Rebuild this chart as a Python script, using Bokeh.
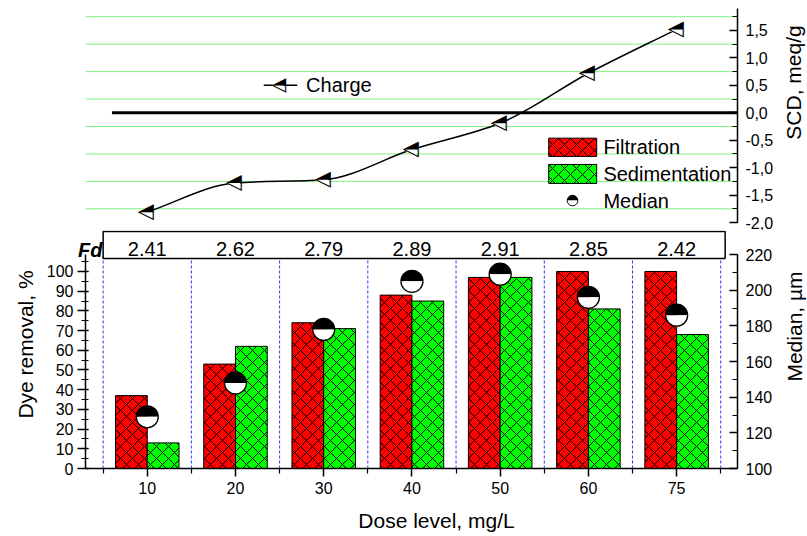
import numpy as np
from bokeh.plotting import figure
from bokeh.layouts import column
from bokeh.models import (Range1d, LinearAxis, SingleIntervalTicker, FixedTicker,
                          CustomJSTickFormatter, Label, ColumnDataSource)
from bokeh.core.properties import value
from bokeh.transform import dodge
from bokeh.embed import file_html
from bokeh.resources import INLINE

# ---------------- data ----------------
doses = ["10", "20", "30", "40", "50", "60", "75"]
filtration = [37, 53, 74, 88, 97, 100, 100]
sedimentation = [13, 62, 71, 85, 97, 81, 68]
median = [129, 148, 178, 205, 209, 196, 186]
charge = [-1.81, -1.28, -1.22, -0.67, -0.19, 0.72, 1.52]
fd = ["2.41", "2.62", "2.79", "2.89", "2.91", "2.85", "2.42"]

FONT = "Liberation Sans"
RED = "#ff0000"
GREEN = "#00ff00"
HATCH = dict(hatch_pattern="diagonal_cross", hatch_color="black", hatch_scale=12, hatch_weight=1)
pos = list(range(1, len(doses) + 1))
halves = [p - 0.5 for p in pos] + [pos[-1] + 0.5]
X0, X1 = 0.3, 7.69
W, H_TOP, H_BOT = 807, 230, 304


def style_axis(ax, tin, tout, mtin, mtout, standoff):
    ax.major_tick_in = tin
    ax.major_tick_out = tout
    ax.minor_tick_in = mtin
    ax.minor_tick_out = mtout
    ax.axis_line_width = 1.5
    ax.major_tick_line_width = 1.5
    ax.minor_tick_line_width = 1.2
    ax.major_label_text_font = FONT
    ax.major_label_text_font_size = "16px"
    ax.major_label_text_color = "black"
    ax.major_label_standoff = standoff


# ---------------- top plot: charge ----------------
top = figure(width=W, height=H_TOP, x_range=Range1d(X0, X1), y_range=Range1d(-2.0, 1.9),
             output_backend="svg", toolbar_location=None, y_axis_location="right",
             min_border_left=85, min_border_right=70, min_border_top=8, min_border_bottom=8)
top.xaxis.visible = False
top.outline_line_color = None
top.xgrid.visible = False
top.ygrid.visible = False
ya = top.yaxis[0]
ya.ticker = SingleIntervalTicker(interval=0.5, num_minor_ticks=2)
ya.formatter = CustomJSTickFormatter(code="return tick.toFixed(1).replace('.', ',');")
style_axis(ya, 8, 0, 5, 0, 8)

# green dotted guide lines at the minor tick positions
gl = np.arange(-1.75, 1.9, 0.5)
top.segment(x0=[X0] * len(gl), y0=gl, x1=[X1] * len(gl), y1=gl,
            line_color="#00e600", line_width=1, line_dash="1 1")

# zero reference line
top.segment(x0=[0.6], y0=[0], x1=[X1], y1=[0], line_color="black", line_width=3)

# smooth monotone curve through the charge points (cubic Hermite -> Bezier)
xs = np.array(pos, float)
ys = np.array(charge, float)
n = len(xs)
d = np.diff(ys) / np.diff(xs)
m = np.empty(n)
m[0], m[-1] = d[0], d[-1]
for k in range(1, n - 1):
    m[k] = 0.0 if d[k - 1] * d[k] <= 0 else 2.0 / (1.0 / d[k - 1] + 1.0 / d[k])
h = np.diff(xs)
top.bezier(x0=xs[:-1], y0=ys[:-1], x1=xs[1:], y1=ys[1:],
           cx0=xs[:-1] + h / 3, cy0=ys[:-1] + m[:-1] * h / 3,
           cx1=xs[1:] - h / 3, cy1=ys[1:] - m[1:] * h / 3,
           line_color="black", line_width=1.5)
top.scatter(x=pos, y=charge, marker="triangle", angle=np.pi / 2, size=16,
            fill_color="white", line_color=None)
top.text(x=pos, y=charge, text=["\u25EE"] * n, angle=np.pi / 2, x_offset=-3,
         text_align="center", text_baseline="middle",
         text_font=value("DejaVu Sans"), text_font_size="21px", text_color="black")

# "Charge" legend
top.segment(x0=[2.32], y0=[0.5], x1=[2.70], y1=[0.5], line_color="black", line_width=1.5)
top.scatter(x=[2.50], y=[0.5], marker="triangle", angle=np.pi / 2, size=14,
            fill_color="white", line_color=None)
top.text(x=[2.50], y=[0.5], text=["\u25EE"], angle=np.pi / 2, x_offset=-3,
         text_align="center", text_baseline="middle",
         text_font=value("DejaVu Sans"), text_font_size="19px", text_color="black")
top.add_layout(Label(x=2.80, y=0.5, text="Charge", text_font=FONT, text_font_size="20px",
                     text_color="black", text_baseline="middle", text_align="left"))

# bar / median legend
top.quad(left=[5.55], right=[6.094], top=[-0.463], bottom=[-0.796], fill_color=RED,
         line_color="black", **HATCH)
top.quad(left=[5.55], right=[6.094], top=[-0.942], bottom=[-1.288], fill_color=GREEN,
         line_color="black", **HATCH)
top.wedge(x=[5.82], y=[-1.60], radius=5.3, radius_units="screen", start_angle=0,
          end_angle=np.pi, fill_color="black", line_color=None)
top.wedge(x=[5.82], y=[-1.60], radius=5.3, radius_units="screen", start_angle=np.pi,
          end_angle=2 * np.pi, fill_color="white", line_color=None)
top.scatter(x=[5.82], y=[-1.60], size=10.6, fill_color=None, line_color="black", line_width=1)
for txt, yy in [("Filtration", -0.63), ("Sedimentation", -1.115), ("Median", -1.60)]:
    top.add_layout(Label(x=6.17, y=yy, text=txt, text_font=FONT, text_font_size="20px",
                         text_color="black", text_baseline="middle", text_align="left"))

# ---------------- bottom plot: bars ----------------
bot = figure(width=W, height=H_BOT, x_range=Range1d(X0, X1), y_range=Range1d(0, 120.8),
             output_backend="svg", toolbar_location=None,
             min_border_left=85, min_border_right=70, min_border_top=0, min_border_bottom=66)
bot.extra_y_ranges = {"median": Range1d(100, 233.5)}
bot.outline_line_color = None
bot.xgrid.visible = False
bot.ygrid.visible = False

la = bot.yaxis[0]
la.ticker = SingleIntervalTicker(interval=10, num_minor_ticks=2)
la.bounds = (0, 108.5)
style_axis(la, 3, 8, 3, 4, 4)

ra = LinearAxis(y_range_name="median", ticker=SingleIntervalTicker(interval=20, num_minor_ticks=2),
                bounds=(100, 220))
style_axis(ra, 8, 0, 5, 0, 8)
bot.add_layout(ra, "right")

xa = bot.xaxis[0]
xa.ticker = FixedTicker(ticks=pos, minor_ticks=halves)
xa.major_label_overrides = {p: d for p, d in zip(pos, doses)}
style_axis(xa, 0, 8, 0, 5, 5)

# blue separators
bot.segment(x0=halves, y0=[0] * len(halves), x1=halves, y1=[108.5] * len(halves),
            line_color="#0000ff", line_width=1, line_dash="3 2", line_alpha=0.8)

src = ColumnDataSource(dict(x=pos, filt=filtration, sed=sedimentation, med=median, fd=fd))
xr = bot.x_range
bot.vbar(x=dodge("x", -0.18, range=xr), width=0.36, top="filt", bottom=0, source=src,
         fill_color=RED, line_color="black", line_width=1, **HATCH)
bot.vbar(x=dodge("x", 0.18, range=xr), width=0.36, top="sed", bottom=0, source=src,
         fill_color=GREEN, line_color="black", line_width=1, **HATCH)

bot.wedge(x="x", y="med", radius=11, radius_units="screen", start_angle=0, end_angle=np.pi,
          fill_color="black", line_color=None, source=src, y_range_name="median")
bot.wedge(x="x", y="med", radius=11, radius_units="screen", start_angle=np.pi,
          end_angle=2 * np.pi, fill_color="white", line_color=None, source=src,
          y_range_name="median")
bot.scatter(x="x", y="med", size=22, fill_color=None, line_color="black", line_width=1.3,
            source=src, y_range_name="median")

# Fd box
bot.quad(left=[0.5], right=[7.55], bottom=[106.6], top=[120.3], fill_color="white",
         line_color="black", line_width=1.5)
bot.text(x="x", y=111.3, text="fd", source=src, text_align="center",
         text_baseline="middle", text_font=value(FONT), text_font_size="20px",
         text_color="black")

# ---------------- transparent overlay for free-standing texts ----------------
H_ALL = H_TOP + H_BOT
ov = figure(width=W, height=H_ALL, x_range=Range1d(0, W), y_range=Range1d(H_ALL, 0),
            output_backend="svg", toolbar_location=None, x_axis_location=None,
            y_axis_location=None, min_border=0, margin=(-H_ALL, 0, 0, 0))
if "frame_align" in ov.properties():
    ov.frame_align = False
ov.grid.visible = False
ov.outline_line_color = None
ov.background_fill_color = None
ov.border_fill_color = None


def ov_text(x, y, txt, size="21px", align="center", angle=0.0, style="normal"):
    ov.add_layout(Label(x=x, y=y, text=txt, text_font=FONT, text_font_size=size,
                        text_color="black", text_align=align, text_baseline="middle",
                        angle=angle, text_font_style=style))


ov_text(102, 249, "Fd", size="20px", align="right", style="bold italic")
ov_text(25, 344, "Dye removal, %", angle=np.pi / 2)
ov_text(793, 82, "SCD, meq/g", angle=np.pi / 2)
ov_text(794, 326, "Median, \u00b5m", angle=np.pi / 2)
ov_text(436, 520, "Dose level, mg/L")

layout = column(top, bot, ov)
open("out.html", "w").write(file_html(layout, INLINE))
